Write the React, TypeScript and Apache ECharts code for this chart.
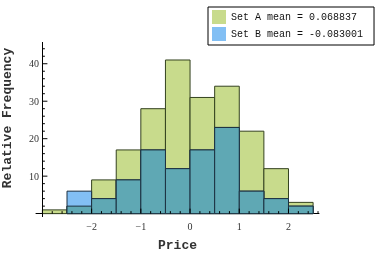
import React, { useEffect, useRef } from "react";
import * as echarts from "echarts";

const BIN_EDGES = [-3, -2.5, -2, -1.5, -1, -0.5, 0, 0.5, 1, 1.5, 2, 2.5];
const SET_A = [1, 2, 9, 17, 28, 41, 31, 34, 22, 12, 3];
const SET_B = [0, 6, 4, 9, 17, 12, 17, 23, 6, 4, 2];
const NAME_A = "Set A mean = 0.068837";
const NAME_B = "Set B mean = -0.083001";
const X_LABELS = [-2, -1, 0, 1, 2];
const X_MINOR = [-2.8, -2.6, -2.4, -2.2, -1.8, -1.6, -1.4, -1.2, -0.8, -0.6, -0.4, -0.2, 0.2, 0.4, 0.6, 0.8, 1.2, 1.4, 1.6, 1.8, 2.2, 2.4, 2.6];
const Y_LABELS = [10, 20, 30, 40];
const Y_MINOR = [2, 4, 6, 8, 12, 14, 16, 18, 22, 24, 26, 28, 32, 34, 36, 38, 42, 44];
const X_ORIGIN = -3;
const X_RANGE = [-3.13, 2.62];
const Y_RANGE = [-0.9, 45.8];

const GREEN = "#c8db8c";
const BLUE = "#82bff4";
const TEAL = "#5fa8b4";

export default function App() {
  const ref = useRef<HTMLDivElement>(null);
  useEffect(() => {
    if (!ref.current) return;
    const chart = echarts.init(ref.current, undefined, { renderer: "svg" });
    const binData = (vals: number[]) =>
      vals.map((v, i) => [BIN_EDGES[i], BIN_EDGES[i + 1], v]);
    const overlap = SET_A.map((a, i) => Math.min(a, SET_B[i]));
    const barRender = (fill: string, stroke: string) => (params: any, api: any) => {
      const x0 = api.value(0), x1 = api.value(1), y = api.value(2);
      if (!y) return null;
      const p0 = api.coord([x0, y]);
      const p1 = api.coord([x1, 0]);
      return {
        type: "rect",
        shape: { x: p0[0], y: p0[1], width: p1[0] - p0[0], height: p1[1] - p0[1] },
        style: { fill, stroke, lineWidth: 1 },
      };
    };
    const xTickRender = (len: number) => (params: any, api: any) => {
      const p = api.coord([api.value(0), 0]);
      return { type: "line", shape: { x1: p[0], y1: p[1], x2: p[0], y2: p[1] - len }, style: { stroke: "#000", lineWidth: 1 } };
    };
    const yTickRender = (len: number) => (params: any, api: any) => {
      const p = api.coord([X_ORIGIN, api.value(0)]);
      return { type: "line", shape: { x1: p[0], y1: p[1], x2: p[0] + len, y2: p[1] }, style: { stroke: "#000", lineWidth: 1 } };
    };
    const fmt = (v: number) => (v < 0 ? "\u2212" + Math.abs(v) : String(v));
    chart.setOption({
      animation: false,
      grid: { left: 36, top: 42, width: 283, height: 175, containLabel: false, outerBoundsMode: "none" },
      legend: {
        data: [NAME_A, NAME_B],
        orient: "vertical",
        left: 208,
        top: 7,
        padding: [3, 11, 4, 4],
        itemWidth: 14,
        itemHeight: 14,
        itemGap: 3,
        icon: "rect",
        borderColor: "#000",
        borderWidth: 1,
        itemStyle: { borderWidth: 0 },
        textStyle: { fontFamily: "Liberation Mono", fontSize: 10, color: "#111" },
      },
      xAxis: {
        type: "value",
        min: X_RANGE[0],
        max: X_RANGE[1],
        axisLine: { onZero: true, lineStyle: { color: "#000", width: 1 } },
        axisTick: { show: false },
        splitLine: { show: false },
        axisLabel: {
          customValues: X_LABELS,
          formatter: fmt,
          margin: 4,
          fontFamily: "Liberation Serif",
          fontSize: 10,
          color: "#333",
        },
        name: "Price",
        nameLocation: "middle",
        nameGap: 22,
        nameTextStyle: { fontFamily: "Liberation Mono", fontSize: 13, fontWeight: "bold", color: "#333" },
      },
      yAxis: {
        type: "value",
        min: Y_RANGE[0],
        max: Y_RANGE[1],
        axisLine: { show: false },
        axisTick: { show: false },
        splitLine: { show: false },
        axisLabel: {
          customValues: Y_LABELS,
          margin: -3,
          fontFamily: "Liberation Serif",
          fontSize: 10,
          color: "#333",
        },
      },
      graphic: [
        {
          type: "text",
          x: 7,
          y: 118,
          rotation: Math.PI / 2,
          style: {
            text: "Relative Frequency",
            fontFamily: "Liberation Mono",
            fontSize: 13,
            fontWeight: "bold",
            fill: "#333",
            textAlign: "center",
            textVerticalAlign: "middle",
          },
        },
      ],
      series: [
        {
          name: NAME_A,
          type: "custom",
          itemStyle: { color: GREEN },
          renderItem: barRender(GREEN, "#34421f"),
          data: binData(SET_A),
          markLine: {
            silent: true,
            symbol: "none",
            label: { show: false },
            lineStyle: { color: "#000", type: "solid", width: 1 },
            data: [{ xAxis: X_ORIGIN }],
          },
        },
        {
          name: NAME_B,
          type: "custom",
          itemStyle: { color: BLUE },
          renderItem: barRender(BLUE, "#1c3040"),
          data: binData(SET_B),
        },
        {
          name: "overlap",
          type: "custom",
          renderItem: barRender(TEAL, "#1c3040"),
          data: binData(overlap),
        },
        { type: "custom", renderItem: xTickRender(5), data: X_LABELS.map((v) => [v]) },
        { type: "custom", renderItem: xTickRender(2.5), data: X_MINOR.map((v) => [v]) },
        { type: "custom", renderItem: yTickRender(5), data: Y_LABELS.map((v) => [v]) },
        { type: "custom", renderItem: yTickRender(2.5), data: Y_MINOR.map((v) => [v]) },
      ],
    });
    return () => chart.dispose();
  }, []);
  return (
    <div
      ref={ref}
      style={{ position: "fixed", left: 0, top: 0, width: 382, height: 253 }}
    />
  );
}
